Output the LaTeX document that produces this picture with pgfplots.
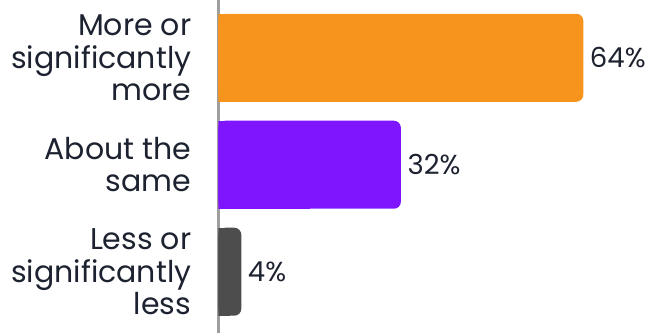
\documentclass[border=0pt]{standalone}
\usepackage{fontspec}
\setmainfont{Poppins}
\usepackage{pgfplots}
\pgfplotsset{compat=1.18}
\definecolor{barorange}{HTML}{F7941D}
\definecolor{barpurple}{HTML}{7F15FF}
\definecolor{bargray}{HTML}{4D4D4D}
\definecolor{axisgray}{HTML}{9E9E9E}
\definecolor{txt}{HTML}{1D2230}
\newcommand\lbl{\fontsize{30}{32.5}\selectfont}
\newcommand\vlb{\fontsize{27.5}{30}\selectfont}
\begin{document}
\begin{tikzpicture}
\begin{axis}[
  at={(0pt,0pt)}, anchor=south west,
  scale only axis, width=427.5pt, height=333pt,
  xmin=0, xmax=75, ymin=-0.54, ymax=2.573, y dir=reverse,
  enlargelimits=false,
  /pgf/number format/assume math mode=true,
  axis x line=none, axis y line*=left,
  y axis line style={draw=axisgray, line width=2.5pt},
  ytick={0,1,2},
  yticklabels={More or\\significantly\\more, About the\\same, Less or\\significantly\\less},
  ytick style={draw=none}, major tick length=0pt,
  yticklabel style={align=right, font=\lbl, text=txt, inner sep=0pt, xshift=-27pt},
  mybar/.style={xbar, bar width=88pt, bar shift=0pt, draw=none},
  vlabel/.style={nodes near coords={\pgfmathprintnumber{\pgfplotspointmeta}\%},
    nodes near coords align=horizontal,
    every node near coord/.append style={font=\vlb, text=txt, inner sep=0pt, xshift=6.5pt, anchor=west}},
]
% rounded bars (value, position)
\addplot[mybar, fill=barorange, rounded corners=7pt, vlabel] coordinates {(64,0)};
\addplot[mybar, fill=barpurple, rounded corners=7pt, vlabel] coordinates {(32,1)};
\addplot[mybar, fill=bargray,   rounded corners=7pt, vlabel] coordinates {(4,2)};
% square left halves of the same bars
\addplot[mybar, fill=barorange, x filter/.expression={x/2}] coordinates {(64,0)};
\addplot[mybar, fill=barpurple, x filter/.expression={x/2}] coordinates {(32,1)};
\addplot[mybar, fill=bargray,   x filter/.expression={x/2}] coordinates {(4,2)};
\end{axis}
\pgfresetboundingbox
\path (-218.5pt,0pt) rectangle (427.5pt,333pt);
\end{tikzpicture}
\end{document}
